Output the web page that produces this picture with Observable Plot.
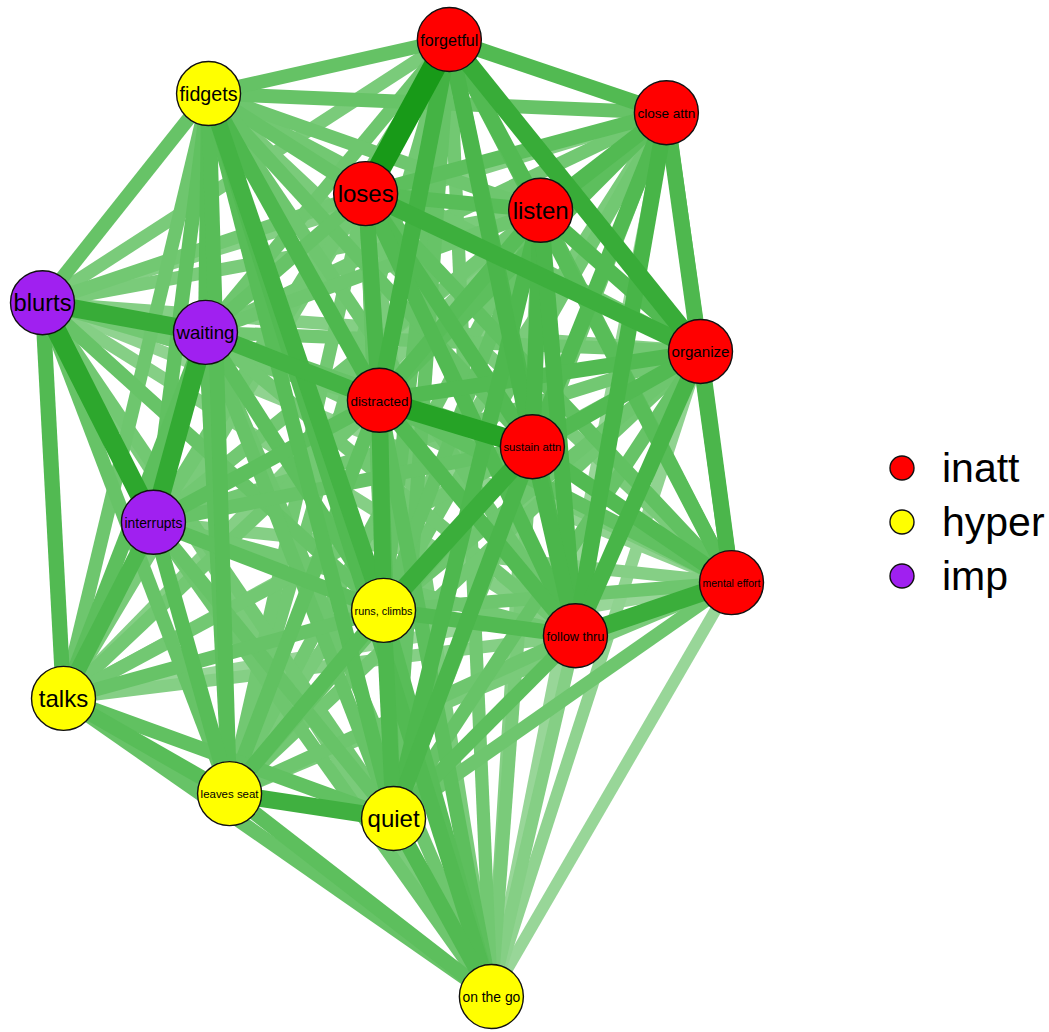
<!DOCTYPE html>
<html>
<head>
<meta charset="utf-8">
<script src="https://cdn.jsdelivr.net/npm/d3@7"></script>
<script src="https://cdn.jsdelivr.net/npm/@observablehq/plot@0.6"></script>
<style>
  body { margin: 0; background: #fff; font-family: "Liberation Sans", Arial, sans-serif; }
  #wrap { position: relative; width: 1049px; height: 1032px; }
  #legend { position: absolute; left: 888px; top: 441px; }
  .row { display: flex; align-items: center; height: 54px; }
  .row span { font-size: 41px; margin-left: 26px; color: #000; line-height: 54px; }
</style>
</head>
<body>
<div id="wrap"><div id="chart"></div><div id="legend"></div></div>
<script>
// Node labels, groups and layout coordinates (layout units -1..1)
const labels = ["forgetful","close attn","fidgets","loses","listen","blurts","waiting","organize","distracted","sustain attn","interrupts","mental effort","runs, climbs","follow thru","talks","leaves seat","quiet","on the go"];
const groups = ["inatt","inatt","hyper","inatt","inatt","imp","imp","inatt","inatt","inatt","imp","inatt","hyper","inatt","hyper","hyper","hyper","hyper"];
const layoutX = [0.181, 0.811, -0.518, -0.062, 0.446, -1.0, -0.527, 0.910, -0.022, 0.422, -0.678, 1.0, -0.010, 0.547, -0.939, -0.457, 0.019, 0.303];
const layoutY = [1.0, 0.847, 0.887, 0.678, 0.643, 0.450, 0.388, 0.348, 0.246, 0.149, -0.009, -0.135, -0.193, -0.246, -0.377, -0.576, -0.628, -1.0];

// Group legend
const groupNames = ["inatt","hyper","imp"];
const groupColors = ["#ff0000","#ffff00","#a020f0"];

// Edge weights, upper triangle: row i lists weights to nodes i+1..17
const weightRows = [
  [0.45,0.36,1.00,0.45,0.28,0.32,0.65,0.55,0.50,0.30,0.42,0.35,0.48,0.25,0.30,0.35,0.30],
  [0.35,0.40,0.45,0.25,0.30,0.42,0.40,0.45,0.28,0.48,0.30,0.52,0.25,0.28,0.30,0.20],
  [0.35,0.32,0.35,0.42,0.30,0.48,0.35,0.38,0.28,0.55,0.32,0.32,0.42,0.42,0.45],
  [0.42,0.30,0.35,0.60,0.50,0.45,0.30,0.38,0.35,0.45,0.28,0.30,0.35,0.28],
  [0.28,0.32,0.45,0.42,0.50,0.30,0.40,0.35,0.50,0.25,0.30,0.48,0.25],
  [0.65,0.25,0.30,0.25,0.75,0.22,0.35,0.25,0.45,0.35,0.30,0.28],
  [0.30,0.55,0.35,0.70,0.28,0.40,0.30,0.40,0.40,0.35,0.32],
  [0.45,0.45,0.30,0.50,0.32,0.52,0.25,0.30,0.35,0.22],
  [0.82,0.40,0.38,0.55,0.45,0.30,0.38,0.42,0.40],
  [0.35,0.45,0.62,0.50,0.30,0.35,0.50,0.28],
  [0.25,0.40,0.30,0.48,0.42,0.35,0.32],
  [0.32,0.62,0.20,0.28,0.32,0.20],
  [0.45,0.35,0.42,0.48,0.42],
  [0.25,0.32,0.40,0.25],
  [0.42,0.38,0.35],
  [0.58,0.40],
  [0.45]
];

const nodes = labels.map((label, i) => ({label, group: groups[i], x: layoutX[i], y: layoutY[i]}));
const edges = [];
weightRows.forEach((row, i) => row.forEach((w, k) => {
  const j = i + 1 + k;
  edges.push({x1: nodes[i].x, y1: nodes[i].y, x2: nodes[j].x, y2: nodes[j].y, w});
}));
edges.sort((a, b) => a.w - b.w);

// edge colour by weight
const edgeColor = d3.scaleLinear()
  .domain([0.2, 0.3, 0.45, 0.6, 0.8, 1])
  .range(["#98d698", "#72c872", "#52ba52", "#3daf3d", "#28a428", "#189a18"])
  .clamp(true);

// label sizes fitted to node width
const ctx = document.createElement("canvas").getContext("2d");
ctx.font = "100px 'Liberation Sans', Arial, sans-serif";
nodes.forEach(n => { n.fs = Math.min(24, 100 * 58 / ctx.measureText(n.label).width); });

const chart = Plot.plot({
  width: 1049,
  height: 1032,
  margin: 0,
  x: {domain: [-1, 1], range: [42, 731], axis: null},
  y: {domain: [-1, 1], range: [996, 39], axis: null},
  color: {domain: groupNames, range: groupColors},
  style: {fontFamily: "'Liberation Sans', Arial, sans-serif", background: "#fff"},
  marks: [
    Plot.link(edges, {
      x1: "x1", y1: "y1", x2: "x2", y2: "y2",
      stroke: d => edgeColor(d.w),
      strokeWidth: d => 9 + 14 * d.w,
      strokeLinecap: "butt"
    }),
    Plot.dot(nodes, {x: "x", y: "y", r: 32, fill: "group", stroke: "#111", strokeWidth: 1.4}),
    Plot.text(nodes, {x: "x", y: "y", text: "label", fontSize: d => d.fs, fill: "#000", dy: 1})
  ]
});
document.getElementById("chart").appendChild(chart);

// Legend
const legend = d3.select("#legend");
groupNames.forEach((g, i) => {
  const row = legend.append("div").attr("class", "row");
  const svg = row.append("svg").attr("width", 28).attr("height", 28);
  svg.append("circle").attr("cx", 14).attr("cy", 14).attr("r", 12)
    .attr("fill", groupColors[i]).attr("stroke", "#111").attr("stroke-width", 1.4);
  row.append("span").text(g);
});
</script>
</body>
</html>
